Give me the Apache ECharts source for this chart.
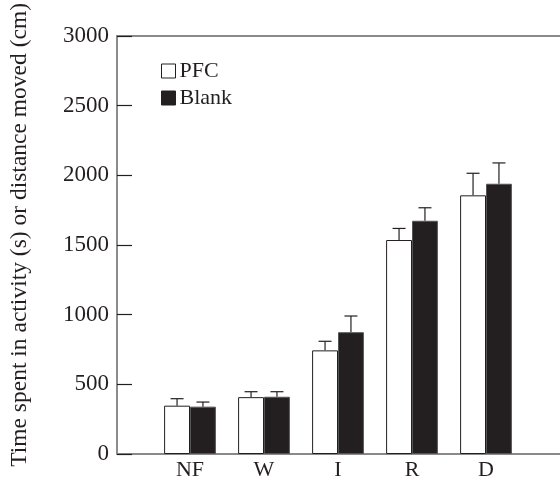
<!DOCTYPE html>
<html>
<head>
<meta charset="utf-8">
<script src="https://cdn.jsdelivr.net/npm/echarts@6/dist/echarts.min.js"></script>
<style>html,body{margin:0;padding:0;background:#fff}#c{width:560px;height:490px}</style>
</head>
<body>
<div id="c"></div>
<script>
var categories = ['NF', 'W', 'I', 'R', 'D'];
var pfcMean = [346, 407, 742, 1532, 1852];
var pfcErr = [50, 39, 65, 83, 158];
var blankMean = [339, 410, 872, 1670, 1935];
var blankErr = [33, 36, 116, 93, 149];
var yTicks = [0, 500, 1000, 1500, 2000, 2500, 3000];

var FONT = 'Liberation Serif';
var INK = '#231f20';

function errData(means, errs) {
  return means.map(function (m, i) { return [i, m, m + errs[i]]; });
}
function errRender(side) {
  return function (params, api) {
    var band = api.size([1, 0])[0];
    var off = side * band * 0.175;
    var base = api.coord([api.value(0), api.value(1)]);
    var top = api.coord([api.value(0), api.value(2)]);
    var x = base[0] + off;
    return {
      type: 'group',
      children: [
        { type: 'line', shape: { x1: x, y1: base[1], x2: x, y2: top[1] }, style: { stroke: INK, lineWidth: 1.2 } },
        { type: 'line', shape: { x1: x - 6.5, y1: top[1], x2: x + 6.5, y2: top[1] }, style: { stroke: INK, lineWidth: 1.2 } }
      ]
    };
  };
}

var chart = echarts.init(document.getElementById('c'), null, { renderer: 'canvas' });
chart.setOption({
  animation: false,
  backgroundColor: '#fff',
  textStyle: { fontFamily: FONT },
  legend: {
    orient: 'vertical', left: 156, top: 55,
    itemWidth: 14, itemHeight: 14, itemGap: 5,
    textStyle: { fontFamily: FONT, fontSize: 22, color: INK, padding: [0, 0, 0, -1] },
    data: [
      { name: 'PFC', icon: 'rect', itemStyle: { color: '#fff', borderColor: INK, borderWidth: 1 } },
      { name: 'Blank', icon: 'rect', itemStyle: { color: INK, borderColor: INK, borderWidth: 1 } }
    ]
  },
  grid: [
    { left: 115, right: 0, top: 35, bottom: 36 },
    { left: 153, right: 37, top: 35, bottom: 36 }
  ],
  xAxis: [
    { gridIndex: 0, type: 'value', min: 0, max: 1, position: 'bottom',
      axisLine: { show: true, lineStyle: { color: '#8a8a8a', width: 2 } },
      axisTick: { show: false }, axisLabel: { show: false }, splitLine: { show: false } },
    { gridIndex: 0, type: 'value', min: 0, max: 1, position: 'top',
      axisLine: { show: true, lineStyle: { color: '#8a8a8a', width: 2 } },
      axisTick: { show: false }, axisLabel: { show: false }, splitLine: { show: false } },
    { gridIndex: 1, type: 'category', data: categories, position: 'bottom',
      axisLine: { show: false }, axisTick: { show: false },
      axisLabel: { fontFamily: FONT, fontSize: 22, color: INK, margin: 5 } }
  ],
  yAxis: [
    { gridIndex: 0, type: 'value', min: 0, max: 3000, interval: 500,
      name: 'Time spent in activity (s) or distance moved (cm)',
      nameLocation: 'middle', nameGap: 85,
      nameTextStyle: { fontFamily: FONT, fontSize: 23.5, color: INK, padding: [0, 0, 0, 20] },
      axisLine: { show: true, lineStyle: { color: '#666', width: 1.5 } },
      axisTick: { show: true, inside: true, length: 15, lineStyle: { color: INK, width: 1.2 } },
      axisLabel: { fontFamily: FONT, fontSize: 23, color: INK, margin: 8,
        formatter: function (v) { return yTicks.indexOf(v) >= 0 ? String(v) : ''; } },
      splitLine: { show: false } },
    { gridIndex: 1, type: 'value', min: 0, max: 3000, interval: 500, show: false }
  ],
  series: [
    { name: 'PFC', type: 'bar', xAxisIndex: 2, yAxisIndex: 1, data: pfcMean,
      barGap: '0%', barCategoryGap: '30%',
      itemStyle: { color: '#fff', borderColor: INK, borderWidth: 1 }, z: 2 },
    { name: 'Blank', type: 'bar', xAxisIndex: 2, yAxisIndex: 1, data: blankMean,
      barGap: '0%', barCategoryGap: '30%',
      itemStyle: { color: INK, borderColor: '#555', borderWidth: 1 }, z: 2 },
    { type: 'custom', xAxisIndex: 2, yAxisIndex: 1, data: errData(pfcMean, pfcErr),
      renderItem: errRender(-1), encode: { x: 0, y: [1, 2] }, z: 1, silent: true },
    { type: 'custom', xAxisIndex: 2, yAxisIndex: 1, data: errData(blankMean, blankErr),
      renderItem: errRender(1), encode: { x: 0, y: [1, 2] }, z: 1, silent: true }
  ]
});
</script>
</body>
</html>
